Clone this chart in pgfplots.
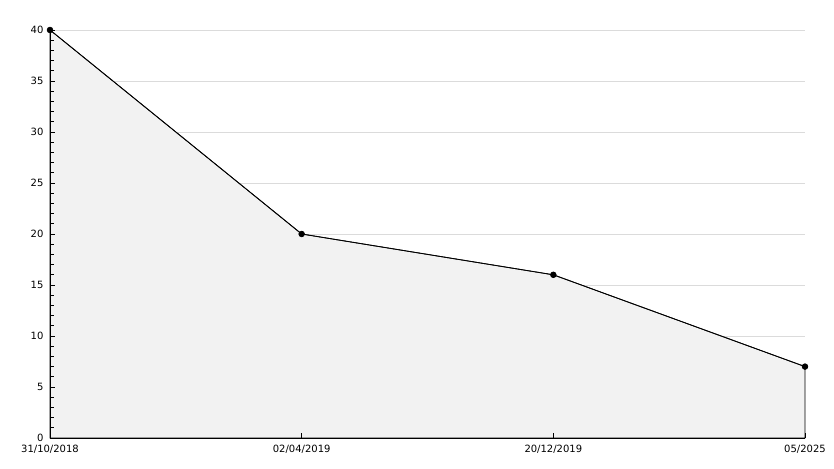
\documentclass[border=0pt]{standalone}
\usepackage{fontspec}
\setmainfont{DejaVu Sans}
\usepackage{pgfplots}
\pgfplotsset{compat=1.18}
\begin{document}
\fontsize{10}{11}\selectfont
\begin{tikzpicture}[x=1pt,y=1pt]
\path[use as bounding box] (0,0) rectangle (834,468);
\begin{axis}[
  at={(50pt,30pt)}, anchor=south west,
  scale only axis, width=755pt, height=408pt,
  xmin=0, xmax=3, ymin=0, ymax=40,
  axis x line=bottom, axis y line=left,
  axis line style={-, black, line width=0.9pt},
  xtick={0,1,2,3},
  xticklabels={31/10/2018,02/04/2019,20/12/2019,05/2025},
  ytick={0,5,...,40},
  minor y tick num=4,
  tick align=inside,
  major tick length=5pt, minor tick length=4pt,
  tick style={black, line width=0.9pt},
  axis on top,
  xticklabel style={yshift=-4pt},
  yticklabel style={xshift=-3pt},
  /pgf/number format/assume math mode=true,
  clip=false,
]
\pgfplotsinvokeforeach{5,10,...,40}{\draw[black!14, line width=0.9pt] (axis cs:0,#1) -- (axis cs:3,#1);}
\addplot[fill=black!5, draw=black, line width=0.8pt] coordinates {(0,40) (1,20) (2,16) (3,7)} \closedcycle;
\addplot[black, line width=0.8pt, mark=*, mark size=2.8pt] coordinates {(0,40) (1,20) (2,16) (3,7)};
\end{axis}
\end{tikzpicture}
\end{document}
